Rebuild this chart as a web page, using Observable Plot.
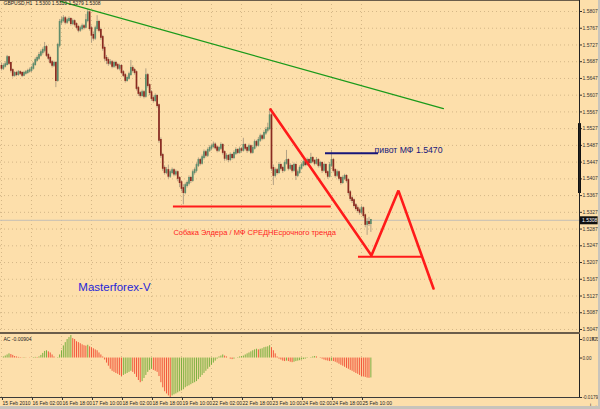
<!DOCTYPE html>
<html><head><meta charset="utf-8">
<script src="https://cdn.jsdelivr.net/npm/d3@7"></script>
<script src="https://cdn.jsdelivr.net/npm/@observablehq/plot@0.6"></script>
<style>
body{margin:0;background:#fddfab;}
#wrap{position:relative;width:600px;height:409px;background:#fddfab;overflow:hidden;font-family:"Liberation Sans",Arial,sans-serif;}
#main{position:absolute;left:0;top:0;}
#sub{position:absolute;left:0;top:333px;}
.b{position:absolute;}
</style></head><body>
<div id="wrap">
<div id="main"></div><div id="sub"></div>
<div class="b" style="left:0;top:0;width:580px;height:1px;background:#6b5d4a"></div>
<div class="b" style="left:579px;top:0;width:1px;height:398px;background:#222"></div>
<div class="b" style="left:0;top:332px;width:580px;height:2px;background:#6b5d4a"></div>
<div class="b" style="left:0;top:397px;width:580px;height:1px;background:#3a3a3a"></div>
<div class="b" style="left:0;top:406px;width:600px;height:3px;background:#c8c4bc"></div>
<div class="b" style="left:598px;top:0;width:2px;height:409px;background:#c8c4bc"></div>
</div>
<script>
// ---- data ----
const symbolHeader = "GBPUSD,H1  1.5300 1.5310 1.5279 1.5308";
const firstOpen = 1.5676;
const closes = [
1.5671,1.5676,1.5680,1.5697,1.5683,1.5666,1.5654,1.5659,1.5656,1.5661,1.5659,1.5654,1.5659,1.5661,1.5664,1.5666,
1.5671,1.5680,1.5690,1.5695,1.5702,1.5709,1.5714,1.5721,1.5702,1.5695,1.5685,1.5678,1.5683,1.5642,1.5726,1.5781,
1.5785,1.5790,1.5781,1.5785,1.5788,1.5778,1.5783,1.5776,1.5769,1.5762,1.5766,1.5771,1.5769,1.5785,1.5804,1.5766,
1.5750,1.5743,1.5766,1.5781,1.5762,1.5745,1.5719,1.5695,1.5690,1.5683,1.5685,1.5676,1.5683,1.5678,1.5671,1.5676,
1.5661,1.5654,1.5642,1.5647,1.5656,1.5671,1.5666,1.5661,1.5623,1.5611,1.5606,1.5613,1.5604,1.5654,1.5630,1.5613,
1.5599,1.5594,1.5604,1.5582,1.5499,1.5463,1.5432,1.5422,1.5427,1.5413,1.5422,1.5427,1.5418,1.5422,1.5408,1.5398,
1.5384,1.5374,1.5391,1.5396,1.5408,1.5403,1.5422,1.5427,1.5439,1.5451,1.5444,1.5458,1.5470,1.5463,1.5475,1.5480,
1.5484,1.5488,1.5481,1.5475,1.5480,1.5487,1.5470,1.5456,1.5461,1.5453,1.5463,1.5458,1.5468,1.5475,1.5470,1.5477,
1.5475,1.5487,1.5480,1.5475,1.5484,1.5470,1.5480,1.5494,1.5487,1.5499,1.5508,1.5504,1.5516,1.5523,1.5527,1.5558,
1.5432,1.5415,1.5427,1.5422,1.5439,1.5432,1.5427,1.5444,1.5451,1.5432,1.5437,1.5427,1.5439,1.5415,1.5422,1.5432,
1.5439,1.5446,1.5441,1.5451,1.5446,1.5456,1.5449,1.5444,1.5451,1.5439,1.5444,1.5427,1.5439,1.5422,1.5413,1.5439,
1.5451,1.5427,1.5415,1.5422,1.5408,1.5398,1.5408,1.5413,1.5403,1.5374,1.5360,1.5355,1.5343,1.5336,1.5331,1.5327,
1.5336,1.5319,1.5298,1.5303,1.5300,1.5308];
const highs = [
1.5684,1.5682,1.5687,1.5702,1.5700,1.5686,1.5670,1.5663,1.5664,1.5666,1.5665,1.5663,1.5664,1.5666,1.5669,1.5672,
1.5676,1.5685,1.5696,1.5701,1.5709,1.5715,1.5720,1.5733,1.5726,1.5707,1.5700,1.5690,1.5688,1.5687,1.5731,1.5788,
1.5793,1.5797,1.5795,1.5791,1.5794,1.5792,1.5789,1.5787,1.5780,1.5774,1.5772,1.5777,1.5776,1.5800,1.5812,1.5808,
1.5772,1.5758,1.5772,1.5797,1.5786,1.5767,1.5750,1.5724,1.5702,1.5696,1.5692,1.5690,1.5688,1.5688,1.5683,1.5681,
1.5680,1.5666,1.5659,1.5653,1.5662,1.5690,1.5677,1.5671,1.5665,1.5628,1.5616,1.5619,1.5618,1.5670,1.5659,1.5634,
1.5618,1.5605,1.5610,1.5608,1.5586,1.5505,1.5468,1.5438,1.5434,1.5440,1.5428,1.5433,1.5431,1.5428,1.5426,1.5412,
1.5402,1.5393,1.5397,1.5402,1.5414,1.5413,1.5428,1.5433,1.5445,1.5457,1.5456,1.5464,1.5476,1.5475,1.5481,1.5486,
1.5490,1.5495,1.5493,1.5486,1.5485,1.5493,1.5491,1.5474,1.5467,1.5465,1.5469,1.5467,1.5474,1.5481,1.5479,1.5483,
1.5482,1.5504,1.5491,1.5485,1.5490,1.5488,1.5486,1.5500,1.5499,1.5506,1.5514,1.5513,1.5522,1.5530,1.5540,1.5573,
1.5563,1.5440,1.5433,1.5432,1.5446,1.5443,1.5437,1.5450,1.5475,1.5455,1.5443,1.5441,1.5445,1.5443,1.5428,1.5438,
1.5445,1.5452,1.5450,1.5457,1.5455,1.5468,1.5460,1.5453,1.5458,1.5455,1.5449,1.5448,1.5444,1.5443,1.5426,1.5446,
1.5475,1.5456,1.5431,1.5428,1.5426,1.5412,1.5414,1.5418,1.5417,1.5407,1.5379,1.5365,1.5359,1.5348,1.5342,1.5337,
1.5342,1.5340,1.5323,1.5312,1.5315,1.5310];
const lows = [
1.5665,1.5666,1.5672,1.5677,1.5678,1.5660,1.5648,1.5650,1.5651,1.5652,1.5654,1.5649,1.5651,1.5655,1.5657,1.5660,
1.5661,1.5667,1.5676,1.5686,1.5690,1.5698,1.5703,1.5708,1.5697,1.5689,1.5680,1.5672,1.5673,1.5625,1.5638,1.5720,
1.5774,1.5780,1.5775,1.5776,1.5780,1.5772,1.5773,1.5770,1.5763,1.5756,1.5757,1.5761,1.5763,1.5765,1.5780,1.5760,
1.5731,1.5736,1.5738,1.5760,1.5756,1.5738,1.5712,1.5688,1.5680,1.5676,1.5678,1.5670,1.5671,1.5672,1.5666,1.5665,
1.5656,1.5649,1.5636,1.5638,1.5643,1.5652,1.5660,1.5655,1.5617,1.5604,1.5600,1.5602,1.5598,1.5600,1.5624,1.5606,
1.5592,1.5588,1.5590,1.5576,1.5492,1.5456,1.5425,1.5416,1.5417,1.5406,1.5408,1.5417,1.5412,1.5413,1.5400,1.5386,
1.5376,1.5345,1.5369,1.5385,1.5390,1.5396,1.5399,1.5416,1.5421,1.5434,1.5438,1.5440,1.5452,1.5457,1.5458,1.5470,
1.5474,1.5479,1.5476,1.5469,1.5470,1.5475,1.5464,1.5449,1.5450,1.5446,1.5448,1.5452,1.5453,1.5463,1.5465,1.5466,
1.5469,1.5471,1.5474,1.5468,1.5471,1.5465,1.5466,1.5476,1.5481,1.5483,1.5494,1.5498,1.5500,1.5511,1.5517,1.5522,
1.5425,1.5391,1.5409,1.5416,1.5418,1.5426,1.5420,1.5423,1.5440,1.5426,1.5427,1.5421,1.5423,1.5403,1.5410,1.5418,
1.5428,1.5435,1.5436,1.5437,1.5441,1.5442,1.5444,1.5438,1.5440,1.5433,1.5433,1.5420,1.5423,1.5416,1.5406,1.5409,
1.5434,1.5421,1.5409,1.5410,1.5402,1.5392,1.5394,1.5403,1.5397,1.5368,1.5353,1.5348,1.5337,1.5330,1.5325,1.5320,
1.5321,1.5313,1.5290,1.5272,1.5293,1.5279];
const acValues = [
0.0000,0.0005,0.0009,0.0014,0.0019,0.0016,0.0012,0.0007,0.0005,0.0003,0.0002,0.0001,0.0002,0.0001,0.0000,-0.0001,
0.0000,0.0002,0.0003,0.0002,0.0005,0.0012,0.0021,0.0030,0.0033,0.0028,0.0023,0.0014,0.0005,0.0000,0.0002,0.0014,
0.0033,0.0055,0.0070,0.0084,0.0093,0.01023,0.0088,0.0084,0.0074,0.0070,0.0065,0.0060,0.0056,0.0054,0.0058,0.0051,
0.0047,0.0042,0.0037,0.0033,0.0023,0.0014,0.0005,-0.0009,-0.0023,-0.0037,-0.0051,-0.0060,-0.0065,-0.0070,-0.0074,-0.0079,
-0.0084,-0.0079,-0.0074,-0.0070,-0.0065,-0.0060,-0.0065,-0.0074,-0.0088,-0.0102,-0.0112,-0.0107,-0.0093,-0.0079,-0.0065,-0.0056,
-0.0051,-0.0056,-0.0060,-0.0065,-0.0084,-0.0112,-0.0135,-0.0153,-0.0163,-0.0172,-0.01791,-0.0172,-0.0167,-0.0163,-0.0158,-0.0153,
-0.0149,-0.0144,-0.0135,-0.0130,-0.0126,-0.0121,-0.0116,-0.0112,-0.0107,-0.0098,-0.0088,-0.0079,-0.0070,-0.0060,-0.0051,-0.0042,
-0.0033,-0.0023,-0.0014,-0.0005,0.0005,0.0009,0.0014,0.0009,0.0005,0.0000,-0.0005,-0.0007,-0.0005,0.0000,0.0002,0.0005,
0.0007,0.0009,0.0014,0.0019,0.0023,0.0028,0.0033,0.0037,0.0040,0.0037,0.0040,0.0042,0.0047,0.0049,0.0051,0.0056,
0.0047,0.0033,0.0019,0.0005,-0.0005,-0.0009,-0.0014,-0.0016,-0.0014,-0.0016,-0.0019,-0.0021,-0.0019,-0.0016,-0.0014,-0.0012,
-0.0009,-0.0007,-0.0005,-0.0002,0.0000,0.0002,0.0005,0.0007,0.0005,0.0000,-0.0002,-0.0005,-0.0009,-0.0012,-0.0014,-0.0016,
-0.0014,-0.0016,-0.0019,-0.0023,-0.0028,-0.0033,-0.0037,-0.0042,-0.0047,-0.0051,-0.0056,-0.0060,-0.0065,-0.0070,-0.0074,-0.0079,
-0.0084,-0.0086,-0.0088,-0.0091,-0.0092,-0.00904];
const acHeader = "AC -0.00904";
const priceTicks = [1.5807,1.5767,1.5727,1.5687,1.5647,1.5607,1.5567,1.5527,1.5487,1.5447,1.5407,1.5367,1.5327,1.5287,1.5247,1.5207,1.5167,1.5127,1.5087,1.5047];
const acTopTick = [0.01023];
const acOtherTicks = [0, -0.01791];
const timeTickBars = [0,16,32,48,64,80,96,112,128,144,160,176,192];
const timeLabels = ["15 Feb 2010","16 Feb 02:00","16 Feb 18:00","17 Feb 10:00","18 Feb 02:00","18 Feb 18:00","19 Feb 10:00","22 Feb 02:00","22 Feb 18:00","23 Feb 10:00","24 Feb 02:00","24 Feb 18:00","25 Feb 10:00"];
// drawn objects (bar index, price)
const greenTrend = [{bar:31.5, price:1.5831},{bar:235.7, price:1.5575}];
const redPattern = [{bar:143.5, price:1.5573},{bar:197.3, price:1.5224},{bar:211.7, price:1.5379},{bar:230.4, price:1.5145}];
const redLevels = [{from:91.7, to:175.9, price:1.5341},{from:190.4, to:224.5, price:1.5221}];
const pivotLevel = [{from:172.8, to:201.1, price:1.5468}];
const axisMarker = [{top:1.5539, bottom:1.5372}];
const notes = [
  {bar:135, price:1.5279, text:"Собака Элдера / МФ СРЕДНЕсрочного тренда", color:"#ff1c1c", size:7.5, anchor:"middle"},
  {bar:199, price:1.5475, text:"пивот МФ 1.5470", color:"#16167a", size:8.7, anchor:"start"},
  {bar:41, price:1.5147, text:"Masterforex-V", color:"#2626d8", size:11.5, anchor:"start"}
];

// ---- build ----
const bars = closes.map((c, i) => ({i, open: i ? closes[i-1] : firstOpen, close: c, high: highs[i], low: lows[i]}));
const ac = acValues.map((v, i) => ({i, v, up: i === 0 ? true : v > acValues[i-1]}));
const lastClose = closes[closes.length - 1];
const xDomain = [-0.533, 308.27];
const font = "Liberation Sans, Arial, sans-serif";
const gridStroke = "#c9ad7e";

const main = Plot.plot({
  width: 600, height: 333,
  marginTop: 0, marginBottom: 1, marginLeft: 0, marginRight: 21,
  x: {domain: xDomain, axis: null},
  y: {domain: [1.50398, 1.58333], axis: null},
  style: {background: "transparent", fontFamily: font, overflow: "visible"},
  marks: [
    Plot.ruleY(priceTicks, {stroke: gridStroke, strokeDasharray: "1,3", strokeOpacity: 0.8}),
    Plot.ruleX(timeTickBars, {stroke: gridStroke, strokeDasharray: "1,3", strokeOpacity: 0.8}),
    Plot.ruleY([lastClose], {stroke: "#c4bfb6", strokeWidth: 1}),
    Plot.ruleX(bars, {x: "i", y1: "low", y2: "high", stroke: "#b3a184", strokeWidth: 1}),
    Plot.ruleX(bars, {x: "i", y1: "open", y2: "close", stroke: d => d.close >= d.open ? "#5e8c6c" : "#8a2a20", strokeWidth: 1.7, strokeLinecap: "square"}),
    Plot.line(greenTrend, {x: "bar", y: "price", stroke: "#1a9a1a", strokeWidth: 1.3}),
    Plot.ruleY(redLevels, {x1: "from", x2: "to", y: "price", stroke: "#ff1a1a", strokeWidth: 2}),
    Plot.line(redPattern, {x: "bar", y: "price", stroke: "#ff1a1a", strokeWidth: 2.6, strokeLinejoin: "miter"}),
    Plot.ruleY(pivotLevel, {x1: "from", x2: "to", y: "price", stroke: "#16167a", strokeWidth: 2}),
    Plot.text(notes, {filter: d => d.anchor === "middle", x: "bar", y: "price", text: "text", fill: d => d.color, fontSize: d => d.size, textAnchor: "middle"}),
    Plot.text(notes, {filter: d => d.anchor === "start", x: "bar", y: "price", text: "text", fill: d => d.color, fontSize: d => d.size, textAnchor: "start"}),
    Plot.text([symbolHeader], {frameAnchor: "top-left", dx: 3, dy: 1, fontSize: 5, fill: "#222"}),
    Plot.axisY(priceTicks, {anchor: "right", tickFormat: d => d.toFixed(4), tickSize: 2, tickPadding: 1, fontSize: 5, fill: "#333", stroke: "#333"}),
    Plot.ruleX(axisMarker, {x: xDomain[1], y1: "top", y2: "bottom", stroke: "#111", strokeWidth: 3}),
    Plot.ruleY([lastClose], {x1: 308.7, x2: 318.2, stroke: "#111", strokeWidth: 8}),
    Plot.text([lastClose], {x: xDomain[1], y: d => d, text: d => d.toFixed(4), dx: 2.5, textAnchor: "start", fill: "#fff", fontSize: 5})
  ]
});
document.getElementById("main").appendChild(main);

const sub = Plot.plot({
  width: 600, height: 76,
  marginTop: 2, marginBottom: 12, marginLeft: 0, marginRight: 21,
  x: {domain: xDomain, axis: null},
  y: {domain: [-0.01791, 0.01023], axis: null},
  style: {background: "transparent", fontFamily: font, overflow: "visible"},
  marks: [
    Plot.ruleX(timeTickBars, {y1: -0.01791, y2: 0.01023, stroke: gridStroke, strokeDasharray: "1,3", strokeOpacity: 0.8}),
    Plot.ruleX(ac, {x: "i", y1: 0, y2: "v", stroke: d => d.up ? "#7cb040" : "#f2583c", strokeWidth: 1}),
    Plot.text([acHeader], {frameAnchor: "top-left", dx: 3, dy: 2, fontSize: 5, fill: "#222"}),
    Plot.axisY(acTopTick, {anchor: "right", tickFormat: d => d.toFixed(5), tickSize: 2, tickPadding: 1, fontSize: 4.6, fill: "#333", stroke: "#333", dy: 4}),
    Plot.axisY(acOtherTicks, {anchor: "right", tickFormat: d => d === 0 ? "0.00" : d.toFixed(5), tickSize: 2, tickPadding: 1, fontSize: 4.6, fill: "#333", stroke: "#333"}),
    Plot.axisX(timeTickBars, {anchor: "bottom", tickFormat: d => timeLabels[timeTickBars.indexOf(d)], tickSize: 3, tickPadding: 1, textAnchor: "start", dx: 1, fontSize: 5, fill: "#222", stroke: "#333"})
  ]
});
document.getElementById("sub").appendChild(sub);
</script></body></html>
